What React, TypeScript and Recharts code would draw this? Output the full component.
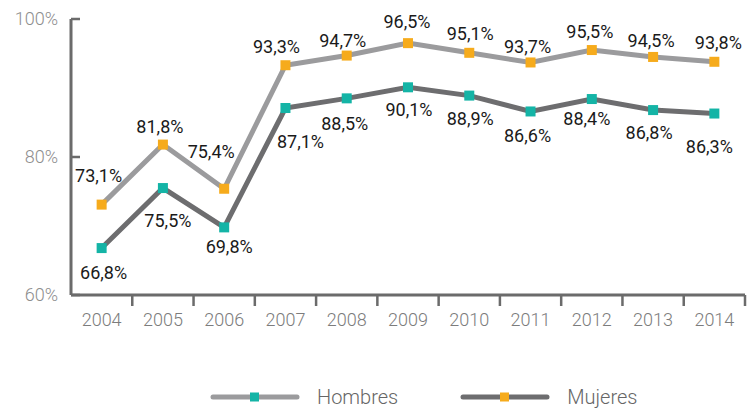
import { LineChart, Line, XAxis, YAxis, LabelList, Legend } from 'recharts'

const years = ['2004', '2005', '2006', '2007', '2008', '2009', '2010', '2011', '2012', '2013', '2014']
const hombres = [73.1, 81.8, 75.4, 93.3, 94.7, 96.5, 95.1, 93.7, 95.5, 94.5, 93.8]
const mujeres = [66.8, 75.5, 69.8, 87.1, 88.5, 90.1, 88.9, 86.6, 88.4, 86.8, 86.3]
const yTicks = [60, 80, 100]

// label nudges (dx, dy) relative to each point
const hombresNudge = [[-3, -29], [-3, -18], [-13, -37], [-9, -19], [-4, -15], [-1, -21], [1, -19], [-3, -16], [-2, -18], [-2, -16], [4, -19]]
const mujeresNudge = [[2, 25], [5, 33], [5, 19], [15, 34], [-2, 25], [1, 22], [1, 23], [-3, 24], [-5, 20], [-4, 23], [-5, 33]]

const data = years.map((year, i) => ({ year, hombres: hombres[i], mujeres: mujeres[i] }))

const W = 748
const H = 414
const margin = { top: 19, right: 3, left: 8, bottom: 89 }
const yAxisWidth = 63
const plotWidth = W - margin.left - margin.right - yAxisWidth
const band = plotWidth / years.length

const LIGHT = '#9b9b9d'
const DARK = '#6d6d6f'
const ORANGE = '#f6ab1c'
const TEAL = '#14b4a6'
const AXIS = '#6b6b6b'
const FONT = 'Roboto, sans-serif'

function XTick({ x, y, payload }: any) {
  return (
    <g>
      <line x1={x + band / 2} x2={x + band / 2} y1={y} y2={y + 11} stroke={AXIS} strokeWidth={2.5} />
      <text x={x} y={y + 31} textAnchor="middle" fill="#7c7c7c" fontSize={18} fontWeight={300} fontFamily={FONT}>
        {payload.value}
      </text>
    </g>
  )
}

function YTick({ x, y, payload }: any) {
  return (
    <g>
      <line x1={x} x2={x + 9} y1={y} y2={y} stroke={AXIS} strokeWidth={2.5} />
      <text x={x - 13} y={y} dy="0.35em" textAnchor="end" fill="#8e8e8e" fontSize={18} fontWeight={300} fontFamily={FONT}>
        {payload.value}%
      </text>
    </g>
  )
}

function squareDot(color: string) {
  return (p: any) => (
    <rect key={`d-${p.index}`} x={p.cx - 5} y={p.cy - 5} width={10} height={10} fill={color} />
  )
}

function valueLabel(nudge: number[][]) {
  return (p: any) => {
    const [dx, dy] = nudge[p.index] || [0, 0]
    return (
      <text
        key={`l-${p.index}`}
        x={p.x + dx}
        y={p.y + dy}
        dy="0.35em"
        textAnchor="middle"
        fill="#1a1a1a"
        fontSize={18}
        fontFamily={FONT}
      >
        {String(p.value.toFixed(1)).replace('.', ',')}%
      </text>
    )
  }
}

function LegendItem({ line, marker, label }: { line: string; marker: string; label: string }) {
  return (
    <div style={{ display: 'flex', alignItems: 'center' }}>
      <svg width={90} height={12}>
        <line x1={3} x2={87} y1={6} y2={6} stroke={line} strokeWidth={5} strokeLinecap="round" />
        <rect x={40} y={1.5} width={9} height={9} fill={marker} />
      </svg>
      <span style={{ marginLeft: 17, fontSize: 20, fontWeight: 300, color: '#666', fontFamily: FONT }}>{label}</span>
    </div>
  )
}

function ChartLegend() {
  // the reference legend swaps the marker colours; kept as drawn
  return (
    <div style={{ display: 'flex', paddingLeft: 210, alignItems: 'center' }}>
      <LegendItem line={LIGHT} marker={TEAL} label="Hombres" />
      <div style={{ width: 62 }} />
      <LegendItem line={DARK} marker={ORANGE} label="Mujeres" />
    </div>
  )
}

export default function App() {
  return (
    <div style={{ position: 'absolute', left: 0, top: 0, width: W, height: H, background: '#fff' }}>
      <LineChart width={W} height={H} data={data} margin={margin}>
        <XAxis
          dataKey="year"
          axisLine={{ stroke: AXIS, strokeWidth: 3 }}
          tickLine={false}
          tickSize={0}
          tickMargin={0}
          height={30}
          interval={0}
          padding={{ left: band / 2, right: band / 2 }}
          tick={<XTick />}
        />
        <YAxis
          domain={[60, 100]}
          ticks={yTicks}
          width={yAxisWidth}
          axisLine={{ stroke: AXIS, strokeWidth: 3 }}
          tickLine={false}
          tickSize={0}
          tickMargin={0}
          tick={<YTick />}
        />
        <Legend
          verticalAlign="middle"
          layout="horizontal"
          content={<ChartLegend />}
          wrapperStyle={{ top: 385, left: 0, width: W, height: 26 }}
        />
        <Line
          dataKey="mujeres"
          name="Mujeres"
          stroke={DARK}
          strokeWidth={5}
          dot={squareDot(TEAL)}
          activeDot={false}
          isAnimationActive={false}
        >
          <LabelList dataKey="mujeres" content={valueLabel(mujeresNudge)} />
        </Line>
        <Line
          dataKey="hombres"
          name="Hombres"
          stroke={LIGHT}
          strokeWidth={5}
          dot={squareDot(ORANGE)}
          activeDot={false}
          isAnimationActive={false}
        >
          <LabelList dataKey="hombres" content={valueLabel(hombresNudge)} />
        </Line>
      </LineChart>
    </div>
  )
}
